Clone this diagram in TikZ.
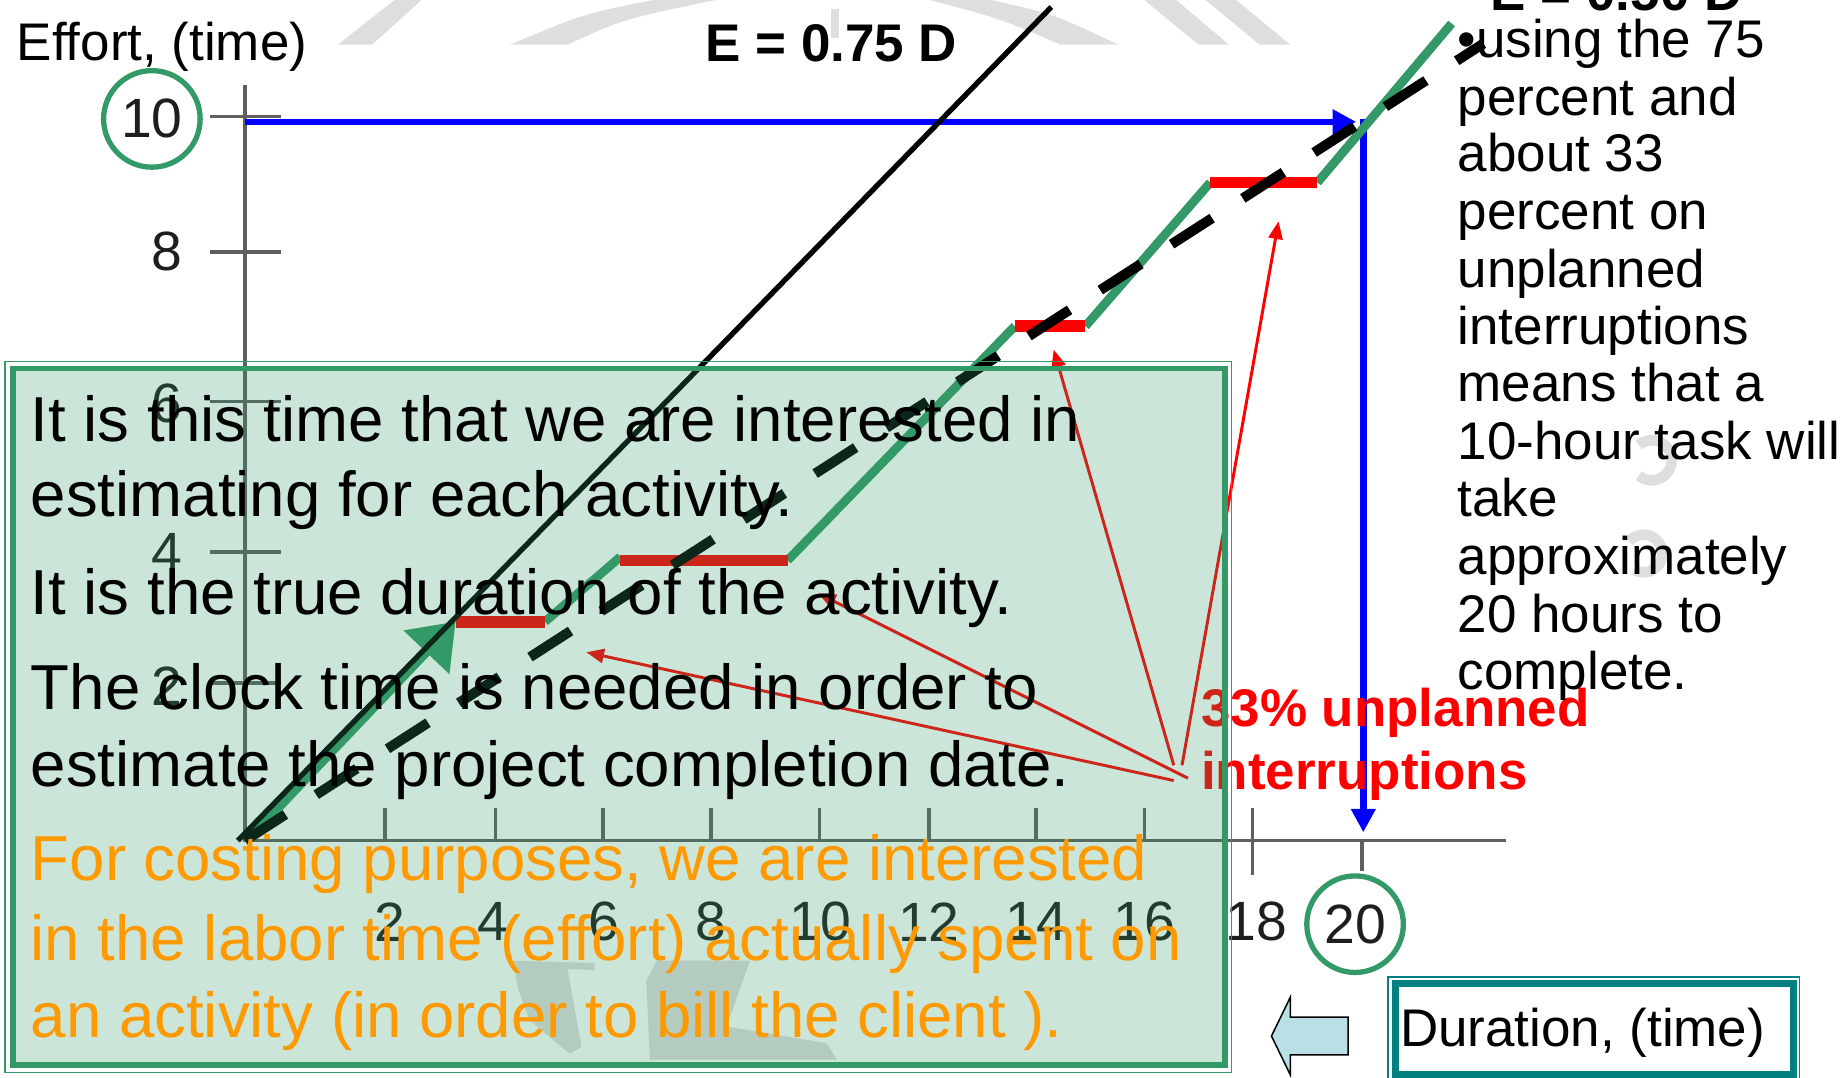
\documentclass[tikz,border=0pt]{standalone}
\usepackage{fontspec}
\setmainfont{Liberation Sans}
\usetikzlibrary{arrows.meta}
\definecolor{pgreen}{RGB}{51,153,102}
\definecolor{pblue}{RGB}{0,0,255}
\definecolor{pred}{RGB}{255,0,0}
\definecolor{porange}{RGB}{255,153,0}
\definecolor{pteal}{RGB}{0,128,128}
\definecolor{wm}{RGB}{222,222,222}
\definecolor{axgray}{RGB}{95,95,95}
\definecolor{arrowfill}{RGB}{185,224,230}
\definecolor{numcol}{RGB}{30,30,30}
\begin{document}
\begin{tikzpicture}[x=1pt,y=-1pt,
  plain/.style={anchor=base west, inner sep=0pt, font=\fontsize{45}{54}\selectfont},
  boldtxt/.style={anchor=base west, inner sep=0pt, font=\fontsize{45}{54}\selectfont\bfseries},
  boxtxt/.style={anchor=base west, inner sep=0pt, font=\fontsize{54}{64}\selectfont},
  numlab/.style={inner sep=0pt, font=\fontsize{47}{50}\selectfont, text=numcol},
  ringed/.style={circle, draw=pgreen, line width=4.5pt, minimum size=82pt},
  axisline/.style={draw=axgray, line width=3pt},
  bluearrow/.style={draw=pblue, line width=5.5pt, -{Triangle[length=20pt,width=20pt]}},
  greenline/.style={draw=pgreen, line width=7.5pt},
  redbar/.style={draw=pred, line width=10pt},
  redarrow/.style={draw=pred, line width=2.5pt, -{Triangle[length=15pt,width=12pt]}},
  wmark/.style={fill=wm, draw=none}
]
\useasboundingbox (0,0) rectangle (1568,915);
\clip (0,0) rectangle (1568,915);
\fill[white] (0,0) rectangle (1568,915);

% ---- watermark fragments
\fill[wmark] (287,38) -- (316,38) -- (358,0) -- (335,0) -- cycle;
\fill[wmark] (433,38) -- (482,38) .. controls (530,16) .. (608,0) -- (555,0) .. controls (495,12) .. (433,38) -- cycle;
\fill[wmark] (790,0) -- (842,0) .. controls (895,12) .. (950,38) -- (901,38) .. controls (850,16) .. (790,0) -- cycle;
\fill[wmark] (972,0) -- (999,0) -- (1044,38) -- (1018,38) -- cycle;
\fill[wmark] (1024,0) -- (1050,0) -- (1096,38) -- (1070,38) -- cycle;
\fill[wmark] (706,8) rectangle (713,32);
\draw[wm, line width=9pt] (1392,404) arc[start angle=130, end angle=-130, radius=17];
\draw[wm, line width=9pt] (1388,484) arc[start angle=120, end angle=-140, radius=16];
\fill[wmark] (436,816) -- (505,818) -- (505,824) -- (482,823) -- (494,889) -- (484,895) -- (450,867) -- (440,840) -- cycle;
\fill[wmark] (558,816) -- (637,816) -- (625,850) -- (617,872) -- (702,886) -- (711,900) -- (552,900) -- (549,833) -- cycle;

% ---- axes
\coordinate (ytop) at (208,72);
\coordinate (O) at (208,714);
\coordinate (xend) at (1279,714);
\draw[axisline] (ytop) -- (O) -- (xend);
\foreach \yy/\nm in {99/t10,214/t8,341/t6,469/t4,580/t2}{
  \coordinate (\nm a) at (178,\yy); \coordinate (\nm b) at (239,\yy);
  \draw[axisline] (\nm a) -- (\nm b);}
\foreach \xx/\nm in {327/x2,421/x4,512/x6,604/x8,696/x10,789/x12,880/x14,972/x16}{
  \coordinate (\nm a) at (\xx,686); \coordinate (\nm b) at (\xx,714);
  \draw[axisline] (\nm a) -- (\nm b);}
\coordinate (x18a) at (1064,686); \coordinate (x18b) at (1064,743);
\draw[axisline] (x18a) -- (x18b);
\coordinate (x20a) at (1157,714); \coordinate (x20b) at (1157,740);
\draw[axisline] (x20a) -- (x20b);

% ---- axis numbers
\node[numlab, ringed] (y10) at (129,101) {10};
\node[numlab] (y8) at (142,214) {8};
\node[numlab] (y6) at (142,343) {6};
\node[numlab] (y4) at (142,469) {4};
\node[numlab] (y2) at (142,583) {2};
\node[numlab] (n2) at (331,783) {2};
\node[numlab] (n4) at (419,783) {4};
\node[numlab] (n6) at (513,783) {6};
\node[numlab] (n8) at (604,783) {8};
\node[numlab] (n10) at (697,783) {10};
\node[numlab] (n12) at (789,783) {12};
\node[numlab] (n14) at (880,783) {14};
\node[numlab] (n16) at (972,783) {16};
\node[numlab] (n18) at (1067,783) {18};
\node[numlab, ringed] (n20) at (1151,785) {20};

% ---- axis titles
\node[plain] (efft) at (14,51) {Effort, (time)};

% ---- blue construction arrows
\coordinate (bstart) at (208,103.5);
\coordinate (bhead) at (1152,103.5);
\coordinate (bcorner) at (1158,101);
\coordinate (bdown) at (1158,707);
\draw[bluearrow] (bstart) -- (bhead);
\draw[bluearrow] (bcorner) -- (bdown);

% ---- 33% label (under the box overlay)
\node[boldtxt, text=pred] (lab1) at (1020,617) {33\% unplanned};
\node[boldtxt, text=pred] (lab2) at (1020,671) {interruptions};

% ---- green step path with red interruptions
\coordinate (g0) at (210,714);
\coordinate (g1) at (387,528);
\coordinate (r1e) at (463,528);
\coordinate (g2) at (527,473);
\coordinate (r2s) at (527,476);
\coordinate (r2e) at (669,476);
\coordinate (g3) at (862,277);
\coordinate (r3e) at (922,277);
\coordinate (g4) at (1028,155);
\coordinate (r4e) at (1119,155);
\coordinate (g5) at (1233,20);
\draw[greenline] (r1e) -- (g2);
\draw[greenline] (r2e) -- (g3);
\draw[greenline] (r3e) -- (g4);
\draw[greenline] (r4e) -- (g5);
\draw[redbar] (g1) -- (r1e);
\draw[redbar] (r2s) -- (r2e);
\draw[redbar] (g3) -- (r3e);
\draw[redbar] (g4) -- (r4e);
\draw[greenline, -{Triangle[length=36pt,width=52pt]}] (g0) -- (g1);

% ---- E = 0.50 D dashed line and E = 0.75 D solid line
\coordinate (dend) at (1260,37);
\draw[black, line width=8.5pt, dash pattern=on 41pt off 31pt] (O) -- (dend);
\coordinate (s0) at (202,714);
\coordinate (s1) at (893,6);
\draw[black, line width=4.5pt] (s0) -- (s1);

\node[boldtxt] (e75) at (599,52.5) {E = 0.75 D};
\node[boldtxt] (e50) at (1266,9) {E = 0.50 D};

% ---- right-hand explanation
\node[plain] (r01) at (1238,49) {\textbullet using the 75};
\node[plain] (r02) at (1238,98) {percent and};
\node[plain] (r03) at (1238,146) {about 33};
\node[plain] (r04) at (1238,195) {percent on};
\node[plain] (r05) at (1238,244) {unplanned};
\node[plain] (r06) at (1238,293) {interruptions};
\node[plain] (r07) at (1238,341) {means that a};
\node[plain] (r08) at (1238,390) {10-hour task will};
\node[plain] (r09) at (1238,439) {take};
\node[plain] (r10) at (1238,488) {approximately};
\node[plain] (r11) at (1238,537) {20 hours to};
\node[plain] (r12) at (1238,586) {complete.};

% ---- red pointer arrows
\coordinate (p1s) at (997,663); \coordinate (p1e) at (498,554);
\coordinate (p2s) at (1009,661); \coordinate (p2e) at (695,504);
\coordinate (p3s) at (997,650); \coordinate (p3e) at (895,297);
\coordinate (p4s) at (1004,650); \coordinate (p4e) at (1086,188);
\draw[redarrow] (p1s) -- (p1e);
\draw[redarrow] (p2s) -- (p2e);
\draw[redarrow] (p3s) -- (p3e);
\draw[redarrow] (p4s) -- (p4e);

% ---- translucent text box
\coordinate (bx1) at (11,313); \coordinate (bx2) at (1040.5,904.5);
\coordinate (bo1) at (4,307); \coordinate (bo2) at (1046,911);
\fill[pgreen, fill opacity=0.25] (bx1) rectangle (bx2);
\draw[pgreen, line width=5pt] (bx1) rectangle (bx2);
\draw[pgreen, line width=1.5pt] (bo1) rectangle (bo2);

\node[boxtxt] (b1) at (26,375) {It is this time that we are interested in};
\node[boxtxt] (b2) at (26,439) {estimating for each activity.};
\node[boxtxt] (b3) at (26,522) {It is the true duration of the activity.};
\node[boxtxt] (b4) at (26,603) {The clock time is needed in order to};
\node[boxtxt] (b5) at (26,668) {estimate the project completion date.};
\node[boxtxt, text=porange] (o1) at (26,748) {For costing purposes, we are interested};
\node[boxtxt, text=porange] (o2) at (26,816) {in the labor time (effort) actually spent on};
\node[boxtxt, text=porange] (o3) at (26,881) {an activity (in order to bill the client ).};

% ---- duration label box and arrow
\coordinate (d1) at (1185.5,835); \coordinate (d2) at (1523,912.5);
\coordinate (do1) at (1179,830); \coordinate (do2) at (1528.5,922);
\fill[white] (do1) rectangle (do2);
\draw[pteal, line width=1.5pt] (do1) rectangle (do2);
\draw[pteal, line width=6pt] (d1) rectangle (d2);
\node[plain] (dur) at (1189,889) {Duration, (time)};
\coordinate (a1) at (1080,880);
\coordinate (a2) at (1096,847);
\coordinate (a3) at (1096,864);
\coordinate (a4) at (1145,864);
\coordinate (a5) at (1145,896);
\coordinate (a6) at (1096,896);
\coordinate (a7) at (1096,913);
\draw[fill=arrowfill, draw=black, line width=1.3pt] (a1) -- (a2) -- (a3) -- (a4) -- (a5) -- (a6) -- (a7) -- cycle;
\end{tikzpicture}
\end{document}
